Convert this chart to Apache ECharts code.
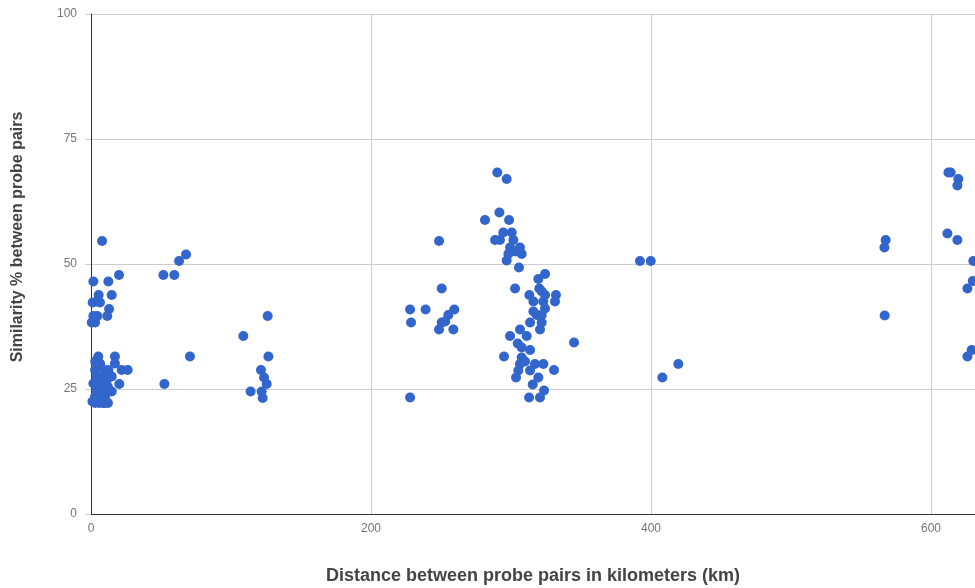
<!DOCTYPE html>
<html>
<head>
<meta charset="utf-8">
<script src="https://cdn.jsdelivr.net/npm/echarts@6/dist/echarts.min.js"></script>
<style>
  html, body { margin: 0; padding: 0; background: #fff; }
  #chart { width: 975px; height: 588px; }
</style>
</head>
<body>
<div id="chart"></div>
<script>
// [distance km, similarity %]
const clusterNearZero = [
  [7.9,54.6],[1.7,46.5],[12.4,46.5],[20,47.8],[5.5,43.8],[14.8,43.8],[1.2,42.3],[4,42.5],[6.4,42.3],
  [12.9,41],[11.6,39.6],[1.7,39.6],[4.5,39.6],[0.5,38.3],[2.9,38.3],
  [5.2,31.5],[17.1,31.5],[6.4,30.1],[17.1,30.1],[12.4,28.8],[21.9,28.8],[26.2,28.8],[2.9,28.8],
  [4,27.5],[14.8,27.5],[1.7,26.1],[20.2,26],[8.6,26.1],[14.8,24.5],[4,24.8],[8.8,24.8],
  [2.9,23.5],[10,23.5],[2.9,22.2],[8.6,22.2],[12.1,22.2],[6,22.2],[10,22.2],[6.5,27.5],
  [10,28],[7,29.5],[3,30.5],[11,26.5],[5.5,25.5],[12,25.5],[7,23.8],[9.5,27],[1,22.5],[4.5,26.5]
];
const cluster50to130 = [
  [51.7,47.8],[59.5,47.8],[62.9,50.6],[67.9,51.9],[70.7,31.5],[52.4,26],
  [108.8,35.6],[126.2,39.6],[126.7,31.5],[121.4,28.8],[123.6,27.3],[125.5,26],
  [114,24.5],[121.9,24.5],[122.6,23.2]
];
const cluster230to260 = [
  [248.6,54.6],[250.5,45.1],[227.9,40.9],[239,40.9],[259.5,40.9],[228.6,38.3],[255.2,39.8],
  [250.5,38.3],[253,38.5],[248.6,36.9],[258.8,36.9],[227.9,23.3]
];
const cluster280to345 = [
  [290.2,68.3],[296.9,67],[291.7,60.3],[281.4,58.8],[298.6,58.8],[294.5,56.3],[300.5,56.3],
  [288.6,54.8],[292.1,54.8],[301.7,54.8],[306.4,53.3],[299.3,53.3],[298.1,52],[307.6,52],
  [303,52.5],[296.9,50.7],[305.7,49.3],[324.3,48],[319.5,47],[302.9,45.1],[320.2,45.1],
  [313.1,43.8],[324.3,43.8],[332.1,43.8],[316,42.5],[323,42.5],[331.4,42.5],[324.3,41.1],
  [321.9,39.8],[318.4,39.8],[313.6,38.3],[321.9,38.3],[320.7,36.9],[306.4,36.9],[299.3,35.6],
  [311.2,35.6],[345,34.3],[304.8,34.1],[307.6,33.3],[313.6,32.8],[295,31.5],[307.6,31.3],
  [306.4,30],[317.1,30],[323.1,30],[330.7,28.8],[305.2,28.7],[313.6,28.7],[319.5,27.3],
  [303.6,27.3],[315.5,25.9],[323.6,24.7],[312.9,23.3],[320.7,23.3],[310,30.5],[316,40.5],[322,44.5]
];
const clusterFar = [
  [392.1,50.6],[399.8,50.6],[419.5,30],[408.1,27.3],
  [567.6,54.8],[566.7,53.3],[566.9,39.7],
  [612.4,68.3],[614,68.3],[619.5,67],[618.8,65.7],[611.7,56.1],[618.8,54.8],
  [630.2,50.6],[629.8,46.6],[626,45.1],[626,31.5],[629,32.8]
];
const xTickLabels = [0, 200, 400, 600];
const yTickLabels = [0, 25, 50, 75, 100];
const xTitle = 'Distance between probe pairs in kilometers (km)';
const yTitle = 'Similarity % between probe pairs';

const allPoints = [].concat(clusterNearZero, cluster50to130, cluster230to260, cluster280to345, clusterFar);

const chart = echarts.init(document.getElementById('chart'));
const FONT = '"Liberation Sans", Arial, sans-serif';
chart.setOption({
  animation: false,
  backgroundColor: '#ffffff',
  grid: { left: 91, top: 14, right: 0, bottom: 74, outerBoundsMode: 'none', containLabel: false },
  xAxis: {
    type: 'value', min: 0, max: 631.4, interval: 200,
    axisLine: { show: true, onZero: false, lineStyle: { color: '#333', width: 1 } },
    axisTick: { show: false },
    splitLine: { show: true, showMaxLine: false, lineStyle: { color: '#cccccc', width: 1 } },
    axisLabel: { color: '#757575', fontSize: 12, fontFamily: FONT, margin: 9, showMaxLabel: false,
      formatter: v => xTickLabels.indexOf(v) >= 0 ? String(v) : '' }
  },
  yAxis: {
    type: 'value', min: 0, max: 100, interval: 25,
    axisLine: { show: true, lineStyle: { color: '#333', width: 1 } },
    axisTick: { show: true, length: 6, lineStyle: { color: '#cccccc' } },
    splitLine: { show: true, lineStyle: { color: '#cccccc', width: 1 } },
    axisLabel: { color: '#757575', fontSize: 12, fontFamily: FONT, margin: 14,
      formatter: v => yTickLabels.indexOf(v) >= 0 ? String(v) : '' }
  },
  graphic: [
    { type: 'text', x: 533, y: 576, silent: true,
      style: { text: xTitle, font: 'bold 18px ' + FONT, fill: '#444444', textAlign: 'center', textVerticalAlign: 'middle' } },
    { type: 'text', x: 18, y: 237, rotation: Math.PI / 2, silent: true,
      style: { text: yTitle, font: 'bold 16px ' + FONT, fill: '#444444', textAlign: 'center', textVerticalAlign: 'middle' } }
  ],
  series: [{
    type: 'scatter',
    data: allPoints,
    symbol: 'circle',
    symbolSize: 10,
    clip: false,
    itemStyle: { color: '#3366cc', opacity: 1 }
  }]
});
</script>
</body>
</html>
